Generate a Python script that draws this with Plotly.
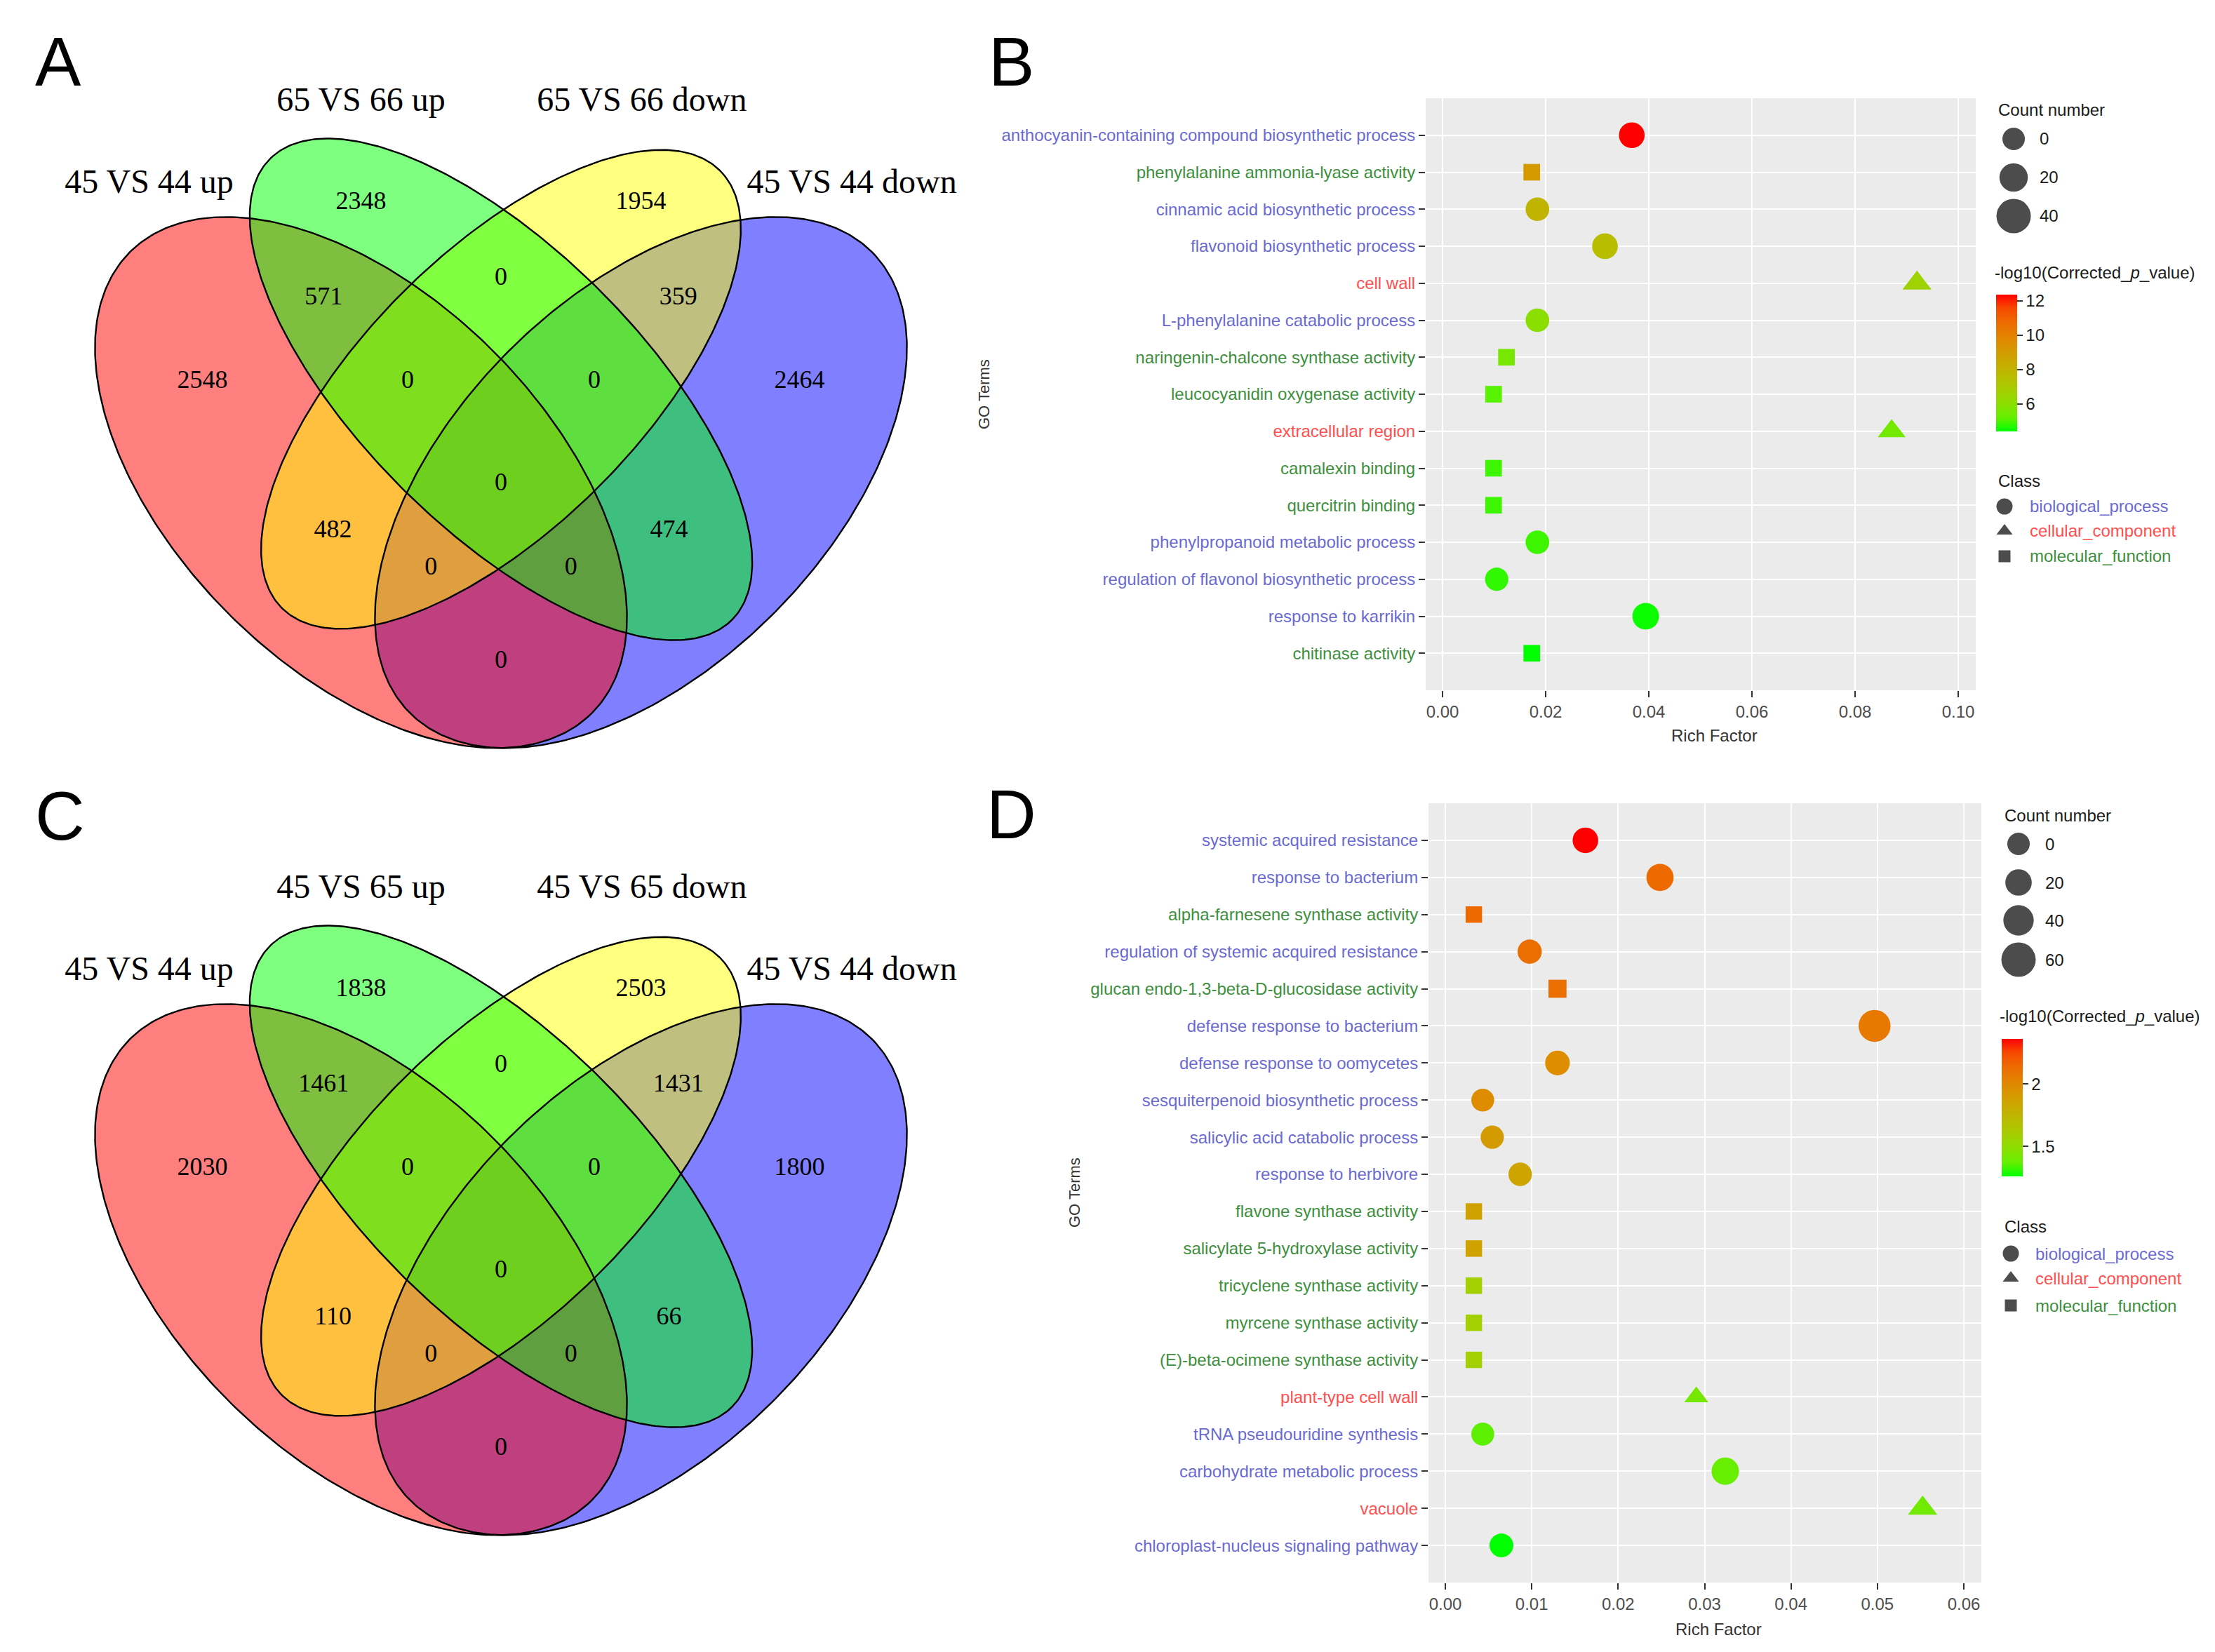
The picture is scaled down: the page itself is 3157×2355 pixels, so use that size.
import numpy as np
import plotly.graph_objects as go

W, H = 3157, 2355

# ------------------------------------------------------------------ data
# Venn diagrams (A, C). Sets: 1 red, 2 green, 3 yellow, 4 blue
venn_a_names = ["45 VS 44 up", "65 VS 66 up", "65 VS 66 down", "45 VS 44 down"]
venn_c_names = ["45 VS 44 up", "45 VS 65 up", "45 VS 65 down", "45 VS 44 down"]
venn_regions = ["2", "3", "12", "23", "34", "1", "123", "234", "4", "1234", "13", "24", "134", "124", "14"]
venn_a_counts = [2348, 1954, 571, 0, 359, 2548, 0, 0, 2464, 0, 482, 474, 0, 0, 0]
venn_c_counts = [1838, 2503, 1461, 0, 1431, 2030, 0, 0, 1800, 0, 110, 66, 0, 0, 0]

# Panel B
b_terms = ["anthocyanin-containing compound biosynthetic process",
           "phenylalanine ammonia-lyase activity",
           "cinnamic acid biosynthetic process",
           "flavonoid biosynthetic process",
           "cell wall",
           "L-phenylalanine catabolic process",
           "naringenin-chalcone synthase activity",
           "leucocyanidin oxygenase activity",
           "extracellular region",
           "camalexin binding",
           "quercitrin binding",
           "phenylpropanoid metabolic process",
           "regulation of flavonol biosynthetic process",
           "response to karrikin",
           "chitinase activity"]
b_class = ["BP", "MF", "BP", "BP", "CC", "BP", "MF", "MF", "CC", "MF", "MF", "BP", "BP", "BP", "MF"]
b_rich = [0.0367, 0.0173, 0.0184, 0.0315, 0.0920, 0.0184, 0.0124, 0.0099, 0.0871,
          0.0099, 0.0099, 0.0184, 0.0105, 0.0394, 0.0173]
b_count = [11, 2, 4, 11, 24, 4, 2, 2, 20, 2, 2, 4, 3, 14, 2]
b_logp = [12.37, 9.1, 8.0, 7.6, 6.6, 6.0, 5.6, 5.1, 5.5, 4.9, 4.9, 4.9, 4.8, 4.5, 4.41]

# Panel D
d_terms = ["systemic acquired resistance",
           "response to bacterium",
           "alpha-farnesene synthase activity",
           "regulation of systemic acquired resistance",
           "glucan endo-1,3-beta-D-glucosidase activity",
           "defense response to bacterium",
           "defense response to oomycetes",
           "sesquiterpenoid biosynthetic process",
           "salicylic acid catabolic process",
           "response to herbivore",
           "flavone synthase activity",
           "salicylate 5-hydroxylase activity",
           "tricyclene synthase activity",
           "myrcene synthase activity",
           "(E)-beta-ocimene synthase activity",
           "plant-type cell wall",
           "tRNA pseudouridine synthesis",
           "carbohydrate metabolic process",
           "vacuole",
           "chloroplast-nucleus signaling pathway"]
d_class = ["BP", "BP", "MF", "BP", "MF", "BP", "BP", "BP", "BP", "BP",
           "MF", "MF", "MF", "MF", "MF", "CC", "BP", "BP", "CC", "BP"]
d_rich = [0.01621, 0.02484, 0.00330, 0.00976, 0.01298, 0.04967, 0.01298, 0.00433, 0.00543, 0.00866,
          0.00330, 0.00330, 0.00330, 0.00330, 0.00330, 0.02904, 0.00433, 0.03239, 0.05523, 0.00649]
d_count = [16, 24, 2, 9, 13, 48, 11, 2, 4, 5, 2, 2, 2, 2, 2, 11, 2, 25, 38, 7]
d_logp = [2.36, 2.14, 2.14, 2.12, 2.12, 2.07, 1.98, 1.98, 1.90, 1.85,
          1.86, 1.86, 1.58, 1.58, 1.58, 1.42, 1.36, 1.38, 1.41, 1.26]

b_size_legend = [0, 20, 40]
d_size_legend = [0, 20, 40, 60]
b_cbar_ticks = [6, 8, 10, 12]
d_cbar_ticks = [1.5, 2]
class_names = {"BP": "biological_process", "CC": "cellular_component", "MF": "molecular_function"}

# ------------------------------------------------------------------ style
SANS = "Liberation Sans, Arial"
SERIF = "Liberation Serif, Times New Roman"
CLASS_COLOR = {"BP": "#6A6AD2", "CC": "#FF4F4F", "MF": "#3D8F3D"}
CLASS_SYMBOL = {"BP": "circle", "CC": "triangle-up", "MF": "square"}
SHAPE_FACTOR = {"BP": 1.0, "CC": 0.85, "MF": 0.72}
TICK_FONT = 24

# Venn geometry in unit coords (cx, cy, a, b, angle)
ELLIPSES = [(0.35, 0.47, 0.35, 0.20, -45),
            (0.50, 0.57, 0.35, 0.15, -45),
            (0.50, 0.57, 0.332, 0.148, 45),
            (0.65, 0.47, 0.35, 0.20, 45)]
FILLS = ["rgba(255,0,0,0.5)", "rgba(0,255,0,0.5)", "rgba(255,255,0,0.5)", "rgba(0,0,255,0.5)"]
DRAW_ORDER = [3, 0, 2, 1]
REGION_POS = {"2": (0.35, 0.770), "3": (0.65, 0.770), "12": (0.31, 0.668), "23": (0.5, 0.689),
              "34": (0.69, 0.668), "1": (0.18, 0.578), "123": (0.40, 0.578), "234": (0.60, 0.578),
              "4": (0.82, 0.578), "1234": (0.5, 0.468), "13": (0.32, 0.418), "24": (0.68, 0.418),
              "134": (0.425, 0.378), "124": (0.575, 0.378), "14": (0.5, 0.278)}
NAME_POS = [(0.123, 0.790), (0.35, 0.878), (0.651, 0.878), (0.876, 0.790)]
VX0, VSX, VSY = 706, 1330, 1328
VY0 = {"A": 1304, "C": 2426}
VR = (0.15, 0.95)


def px_x(x):
    return x / W


def px_y(y):
    return 1 - y / H


def lab_scale(c1, c2, n=11):
    def to_lin(c):
        c = np.asarray(c, float) / 255
        return np.where(c <= 0.04045, c / 12.92, ((c + 0.055) / 1.055) ** 2.4)

    def to_srgb(c):
        c = np.clip(c, 0, 1)
        return np.where(c <= 0.0031308, 12.92 * c, 1.055 * c ** (1 / 2.4) - 0.055) * 255

    M = np.array([[0.4124, 0.3576, 0.1805], [0.2126, 0.7152, 0.0722], [0.0193, 0.1192, 0.9505]])
    Mi = np.linalg.inv(M)
    wp = np.array([0.95047, 1.0, 1.08883])
    d = 6 / 29

    def f(t):
        return np.where(t > d ** 3, np.cbrt(t), t / (3 * d * d) + 4 / 29)

    def fi(t):
        return np.where(t > d, t ** 3, 3 * d * d * (t - 4 / 29))

    def lab(c):
        xyz = M @ to_lin(c) / wp
        fx, fy, fz = f(xyz)
        return np.array([116 * fy - 16, 500 * (fx - fy), 200 * (fy - fz)])

    def rgb(L):
        fy = (L[0] + 16) / 116
        fx = fy + L[1] / 500
        fz = fy - L[2] / 200
        xyz = np.array([fi(fx), fi(fy), fi(fz)]) * wp
        return to_srgb(Mi @ xyz)

    l1, l2 = lab(c1), lab(c2)
    out = []
    for t in np.linspace(0, 1, n):
        r, g, b = rgb(l1 + (l2 - l1) * t)
        out.append([float(t), "rgb(%d,%d,%d)" % (round(r), round(g), round(b))])
    return out


CSCALE = lab_scale((0, 255, 0), (255, 0, 0))

fig = go.Figure()

# ------------------------------------------------------------------ Venn panels
for key, xa, ya, names, counts in [("A", "x", "y", venn_a_names, venn_a_counts),
                                    ("C", "x3", "y3", venn_c_names, venn_c_counts)]:
    t = np.linspace(0, 2 * np.pi, 400)
    pts = []
    for cx, cy, a, b, ang in ELLIPSES:
        th = np.radians(ang)
        ex = cx + a * np.cos(t) * np.cos(th) - b * np.sin(t) * np.sin(th)
        ey = cy + a * np.cos(t) * np.sin(th) + b * np.sin(t) * np.cos(th)
        pts.append((ex, ey))
    for i in DRAW_ORDER:
        fig.add_trace(go.Scatter(x=pts[i][0], y=pts[i][1], mode="lines", fill="toself",
                                 fillcolor=FILLS[i], line=dict(width=0, color="rgba(0,0,0,0)"),
                                 xaxis=xa, yaxis=ya, hoverinfo="skip", showlegend=False))
    for i in range(4):
        fig.add_trace(go.Scatter(x=pts[i][0], y=pts[i][1], mode="lines",
                                 line=dict(width=2.4, color="black"),
                                 xaxis=xa, yaxis=ya, hoverinfo="skip", showlegend=False))
    fig.add_trace(go.Scatter(x=[REGION_POS[r][0] for r in venn_regions],
                             y=[REGION_POS[r][1] for r in venn_regions],
                             text=[str(c) for c in counts], mode="text",
                             textfont=dict(family=SERIF, size=36, color="black"),
                             xaxis=xa, yaxis=ya, hoverinfo="skip", showlegend=False))
    fig.add_trace(go.Scatter(x=[p[0] for p in NAME_POS], y=[p[1] for p in NAME_POS],
                             text=names, mode="text",
                             textfont=dict(family=SERIF, size=48, color="black"),
                             xaxis=xa, yaxis=ya, hoverinfo="skip", showlegend=False))


def venn_axes(key, xa, ya):
    y0 = VY0[key]
    xd = [px_x(VX0 - 0.5 * VSX), px_x(VX0 + 0.5 * VSX)]
    yd = [px_y(y0 - VR[0] * VSY), px_y(y0 - VR[1] * VSY)]
    return (dict(domain=xd, range=[0, 1], visible=False, fixedrange=True, anchor=ya, automargin=False),
            dict(domain=yd, range=list(VR), visible=False, fixedrange=True, anchor=xa, automargin=False))


ax_a = venn_axes("A", "x", "y")
ax_c = venn_axes("C", "x3", "y3")


# ------------------------------------------------------------------ GO panels
def go_trace(terms, cls, rich, count, logp, d0, k, xa, ya, cax):
    sizes = [SHAPE_FACTOR[c] * (d0 + k * n) for c, n in zip(cls, count)]
    return go.Scatter(x=rich, y=terms, mode="markers", xaxis=xa, yaxis=ya,
                      marker=dict(size=sizes, symbol=[CLASS_SYMBOL[c] for c in cls],
                                  color=logp, coloraxis=cax, line=dict(width=0), opacity=1),
                      hoverinfo="skip", showlegend=False)


B_D0, B_K = 32, 0.425
D_D0, D_K = 32, 0.283
fig.add_trace(go_trace(b_terms, b_class, b_rich, b_count, b_logp, B_D0, B_K, "x2", "y2", "coloraxis"))
fig.add_trace(go_trace(d_terms, d_class, d_rich, d_count, d_logp, D_D0, D_K, "x4", "y4", "coloraxis2"))

BOX_B = (2024, 2808, 132, 976)
BOX_D = (2028, 2816, 1137, 2248)


def xaxis_go(box, zero_px, per_unit, dtick, anchor):
    l, r, t, b = box
    return dict(domain=[px_x(l), px_x(r)], range=[(l - zero_px) / per_unit, (r - zero_px) / per_unit],
                anchor=anchor, automargin=False,
                dtick=dtick, tick0=0, tickformat=".2f", showgrid=True, gridcolor="white", gridwidth=2.2,
                zeroline=False, showline=False, ticks="outside", ticklen=9, tickwidth=2,
                tickcolor="#333333", tickfont=dict(family=SANS, size=TICK_FONT, color="#4D4D4D"),
                fixedrange=True)


def yaxis_go(box, terms, cls, anchor):
    l, r, t, b = box
    return dict(domain=[px_y(b), px_y(t)], type="category", categoryarray=terms,
                categoryorder="array", range=[len(terms), -1], anchor=anchor, automargin=False,
                tickmode="array", tickvals=terms,
                ticktext=["<span style='color:%s'>%s</span>" % (CLASS_COLOR[c], s) for s, c in zip(terms, cls)],
                showgrid=True, gridcolor="white", gridwidth=2.2, zeroline=False, showline=False,
                ticks="outside", ticklen=9, tickwidth=2, tickcolor="#333333",
                tickfont=dict(family=SANS, size=TICK_FONT), fixedrange=True)


shapes = []
for xr, yr in [("x2", "y2"), ("x4", "y4")]:
    shapes.append(dict(type="rect", xref=xr + " domain", yref=yr + " domain", x0=0, x1=1, y0=0, y1=1,
                       fillcolor="#EBEBEB", line=dict(width=0), layer="below"))

# ------------------------------------------------------------------ manual legends (pixel overlay)
LEG = {
    "B": dict(count_title=(2838, 149), circ_x=2862, circ_y=[190, 245, 300], lab_x=2897,
              p_title=(2833, 381), cbar=(2837, 412, 607), class_title=(2838, 678),
              sym_x=2849, sym_y=[714, 749, 785], cls_x=2883),
    "D": dict(count_title=(2847, 1154), circ_x=2869, circ_y=[1195, 1250, 1304, 1360], lab_x=2905,
              p_title=(2840, 1440), cbar=(2845, 1473, 1669), class_title=(2847, 1741),
              sym_x=2858, sym_y=[1779, 1814, 1853], cls_x=2891),
}
CLASS_LEG_SIZE = {"BP": 23, "CC": 20, "MF": 17}
annotations = []


def ann(x, y, text, size=TICK_FONT, color="#1A1A1A", xanchor="left", family=SANS, angle=0):
    annotations.append(dict(x=px_x(x), y=px_y(y), xref="paper", yref="paper", text=text,
                            showarrow=False, xanchor=xanchor, yanchor="middle", textangle=angle,
                            font=dict(family=family, size=size, color=color)))


for key, vals, d0, k in [("B", b_size_legend, B_D0, B_K), ("D", d_size_legend, D_D0, D_K)]:
    L = LEG[key]
    ann(*L["count_title"], "Count number")
    fig.add_trace(go.Scatter(x=[L["circ_x"]] * len(vals), y=L["circ_y"][:len(vals)], mode="markers",
                             marker=dict(size=[d0 + k * v for v in vals], color="black", line=dict(width=0)),
                             xaxis="x5", yaxis="y5", hoverinfo="skip", showlegend=False))
    for v, yy in zip(vals, L["circ_y"]):
        ann(L["lab_x"], yy, str(v))
    ann(*L["p_title"], "-log10(Corrected_<i>p</i>_value)")
    ann(*L["class_title"], "Class")
    keys = ["BP", "CC", "MF"]
    fig.add_trace(go.Scatter(x=[L["sym_x"]] * 3, y=L["sym_y"], mode="markers",
                             marker=dict(size=[CLASS_LEG_SIZE[c] for c in keys],
                                         symbol=[CLASS_SYMBOL[c] for c in keys], color="black",
                                         line=dict(width=0)),
                             xaxis="x5", yaxis="y5", hoverinfo="skip", showlegend=False))
    for c, yy in zip(keys, L["sym_y"]):
        ann(L["cls_x"], yy, class_names[c], color=CLASS_COLOR[c])


def cbar(key, ticks):
    x0, top, bot = LEG[key]["cbar"]
    return dict(x=px_x(x0), xanchor="left", xref="paper", y=px_y((top + bot) / 2), yanchor="middle",
                yref="paper", len=bot - top, lenmode="pixels", thickness=30, thicknessmode="pixels",
                xpad=0, ypad=0, outlinewidth=0, ticks="outside", ticklen=8, tickwidth=2,
                tickcolor="#333333", tickvals=ticks,
                tickfont=dict(family=SANS, size=TICK_FONT, color="#1A1A1A"))


# panel letters and axis titles
ann(75, 80, "A", size=98, color="black", xanchor="center")
ann(1433, 80, "B", size=98, color="black", xanchor="center")
ann(77, 1155, "C", size=98, color="black", xanchor="center")
ann(1433, 1153, "D", size=98, color="black", xanchor="center")
ann(1395, 554, "GO Terms", size=22, color="#333333", xanchor="center", angle=-90)
ann(1524, 1692, "GO Terms", size=22, color="#333333", xanchor="center", angle=-90)
ann(2435, 1040, "Rich Factor", size=TICK_FONT, color="#333333", xanchor="center")
ann(2441, 2314, "Rich Factor", size=TICK_FONT, color="#333333", xanchor="center")

fig.update_layout(
    width=W, height=H, autosize=False, margin=dict(l=0, r=0, t=0, b=0, pad=0),
    paper_bgcolor="white", plot_bgcolor="rgba(0,0,0,0)", showlegend=False,
    xaxis=ax_a[0], yaxis=ax_a[1],
    xaxis3=ax_c[0], yaxis3=ax_c[1],
    xaxis2=xaxis_go(BOX_B, 2048, 7350, 0.02, "y2"), yaxis2=yaxis_go(BOX_B, b_terms, b_class, "x2"),
    xaxis4=xaxis_go(BOX_D, 2052, 12317, 0.01, "y4"), yaxis4=yaxis_go(BOX_D, d_terms, d_class, "x4"),
    xaxis5=dict(domain=[0, 1], range=[0, W], visible=False, fixedrange=True, anchor="y5", automargin=False),
    yaxis5=dict(domain=[0, 1], range=[H, 0], visible=False, fixedrange=True, anchor="x5", automargin=False),
    coloraxis=dict(colorscale=CSCALE, cmin=min(b_logp), cmax=max(b_logp), colorbar=cbar("B", b_cbar_ticks)),
    coloraxis2=dict(colorscale=CSCALE, cmin=min(d_logp), cmax=max(d_logp), colorbar=cbar("D", d_cbar_ticks)),
    shapes=shapes, annotations=annotations,
    font=dict(family=SANS),
)

fig.write_html("out.html")
